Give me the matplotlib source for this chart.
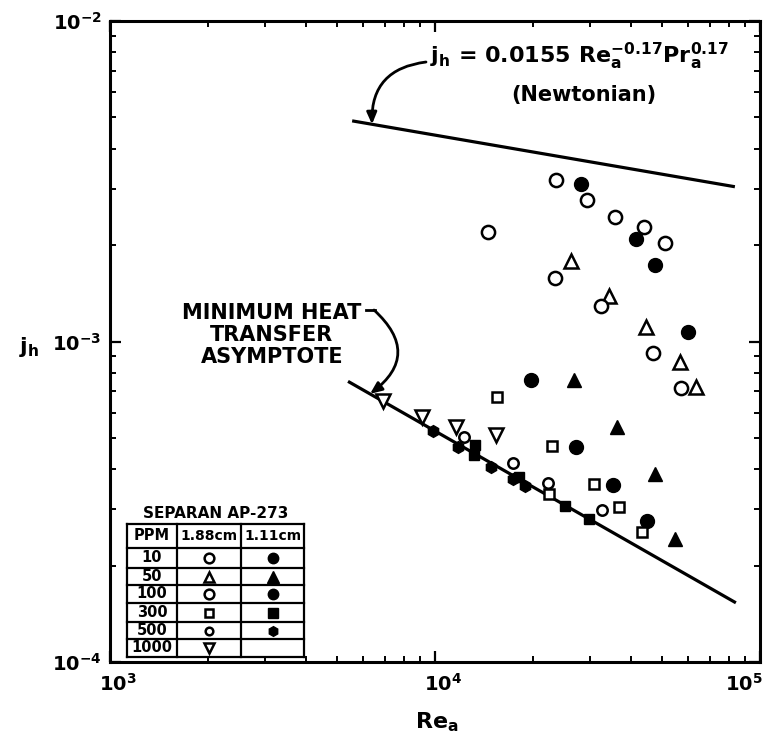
import numpy as np
import matplotlib
matplotlib.use("Agg")
import matplotlib.pyplot as plt
from matplotlib.lines import Line2D
from matplotlib.ticker import LogLocator, NullFormatter, FixedLocator
from matplotlib.transforms import blended_transform_factory, offset_copy

plt.rcParams['font.family'] = ['DejaVu Sans']
plt.rcParams['font.weight'] = 'bold'
plt.rcParams['mathtext.default'] = 'regular'

# ---------------- data ----------------
# 10 PPM
re_10_188 = [23600, 29400, 35800, 44000, 51000]
jh_10_188 = [3.18e-3, 2.77e-3, 2.45e-3, 2.28e-3, 2.03e-3]
re_10_111 = [28100, 41500, 47500, 60000]
jh_10_111 = [3.11e-3, 2.09e-3, 1.73e-3, 1.07e-3]
# 50 PPM
re_50_188 = [26200, 34300, 44600, 56700, 63600]
jh_50_188 = [1.78e-3, 1.39e-3, 1.11e-3, 8.66e-4, 7.19e-4]
re_50_111 = [26800, 36300, 47500, 54800]
jh_50_111 = [7.61e-4, 5.40e-4, 3.85e-4, 2.42e-4]
# 100 PPM
re_100_188 = [14600, 23400, 32400, 46900, 57100]
jh_100_188 = [2.20e-3, 1.58e-3, 1.29e-3, 9.24e-4, 7.14e-4]
re_100_111 = [19700, 27200, 35300, 44900]
jh_100_111 = [7.56e-4, 4.68e-4, 3.56e-4, 2.75e-4]
# 300 PPM
re_300_188 = [15500, 22900, 30800, 22400, 36800, 43400]
jh_300_188 = [6.69e-4, 4.71e-4, 3.58e-4, 3.34e-4, 3.04e-4, 2.54e-4]
re_300_111 = [13300, 13200, 18100, 25100, 29800]
jh_300_111 = [4.74e-4, 4.42e-4, 3.77e-4, 3.06e-4, 2.79e-4]
# 500 PPM
re_500_188 = [12300, 17400, 22300, 32600]
jh_500_188 = [5.02e-4, 4.17e-4, 3.61e-4, 2.98e-4]
re_500_111 = [9860, 11800, 14900, 17400, 18900]
jh_500_111 = [5.24e-4, 4.68e-4, 4.05e-4, 3.72e-4, 3.53e-4]
# 1000 PPM
re_1000_188 = [6920, 9120, 11600, 15400]
jh_1000_188 = [6.50e-4, 5.80e-4, 5.40e-4, 5.10e-4]

# Newtonian correlation line and minimum heat transfer asymptote
newt_re = [5560, 83700]
newt_jh = [4.88e-3, 3.04e-3]
asym_re = [5400, 84300]
asym_jh = [7.51e-4, 1.53e-4]

ppm_labels = ["10", "50", "100", "300", "500", "1000"]
x_ticks = [1e3, 1e4, 1e5]
x_tick_labels = [r'$10^{3}$', r'$10^{4}$', r'$10^{5}$']
y_ticks = [1e-4, 1e-3, 1e-2]
y_tick_labels = [r'$10^{-4}$', r'$10^{-3}$', r'$10^{-2}$']

# ---------------- figure ----------------
W, H = 783, 747
fig = plt.figure(figsize=(W / 100, H / 100), dpi=100)

def fx(px):
    return px / W

def fy(py):
    return 1 - py / H

ax_l, ax_r, ax_t, ax_b = 110, 760, 21, 662
ax = fig.add_axes([fx(ax_l), fy(ax_b), (ax_r - ax_l) / W, (ax_b - ax_t) / H])
ax.set_xscale('log')
ax.set_yscale('log')
ax.set_xlim(1e3, 1e5)
ax.set_ylim(1e-4, 1e-2)

for s in ax.spines.values():
    s.set_linewidth(2.2)

ax.xaxis.set_major_locator(FixedLocator(x_ticks))
ax.yaxis.set_major_locator(FixedLocator(y_ticks))
ax.xaxis.set_minor_locator(LogLocator(base=10, subs=np.arange(2, 10)))
ax.yaxis.set_minor_locator(LogLocator(base=10, subs=np.arange(2, 10)))
ax.xaxis.set_minor_formatter(NullFormatter())
ax.yaxis.set_minor_formatter(NullFormatter())
ax.set_xticklabels(['' for _ in x_ticks])
ax.set_yticklabels(y_tick_labels)
ax.tick_params(which='both', direction='in', top=True, right=True, labelsize=14)
ax.tick_params(which='major', length=8, width=1.6, pad=6)
ax.tick_params(which='minor', length=4.5, width=1.4)

# x tick labels placed below the axis (last one pulled inside the figure)
blend = blended_transform_factory(ax.transData, ax.transAxes)
x_label_shift = [8, 8, -16]
for xv, lab, dx in zip(x_ticks, x_tick_labels, x_label_shift):
    tr = offset_copy(blend, fig=fig, x=dx, y=-22, units='dots')
    ax.text(xv, 0, lab, transform=tr, fontsize=14, ha='center', va='center',
            clip_on=False)

# lines
ax.plot(newt_re, newt_jh, color='black', lw=2.3, solid_capstyle='butt')
ax.plot(asym_re, asym_jh, color='black', lw=2.3, solid_capstyle='butt')

open_kw = dict(mfc='white', mec='black', mew=1.8, ls='none')
fill_kw = dict(mfc='black', mec='black', mew=1.0, ls='none')

series = [
    (re_10_188, jh_10_188, 'o', 9.5, open_kw),
    (re_10_111, jh_10_111, 'o', 10, fill_kw),
    (re_50_188, jh_50_188, '^', 10, open_kw),
    (re_50_111, jh_50_111, '^', 10, fill_kw),
    (re_100_188, jh_100_188, 'o', 9.5, open_kw),
    (re_100_111, jh_100_111, 'o', 10, fill_kw),
    (re_300_188, jh_300_188, 's', 6.5, open_kw),
    (re_300_111, jh_300_111, 's', 7.5, fill_kw),
    (re_500_188, jh_500_188, 'o', 7.5, open_kw),
    (re_500_111, jh_500_111, 'h', 8.5, fill_kw),
    (re_1000_188, jh_1000_188, 'v', 10, open_kw),
]
for xs, ys, m, ms, kw in series:
    ax.plot(xs, ys, marker=m, ms=ms, **kw, zorder=3)

# axis labels
fig.text(fx(29), fy(347), r'$j_h$', fontsize=16, ha='center', va='center')
fig.text(fx(437), fy(722), r'$Re_a$', fontsize=16, ha='center', va='center')

# Newtonian annotation
fig.text(fx(430), fy(56), r'$j_h$ = 0.0155 $Re_a^{-0.17}$$Pr_a^{0.17}$',
         fontsize=16, ha='left', va='center')
fig.text(fx(584), fy(95), '(Newtonian)', fontsize=15, ha='center', va='center')
lx = np.log10(newt_re)
ly = np.log10(newt_jh)
tx = 6400
ty = 10 ** np.interp(np.log10(tx), lx, ly)
ax.annotate('', xy=(tx, ty), xycoords='data',
            xytext=(426, H - 62), textcoords='figure pixels',
            arrowprops=dict(arrowstyle='-|>,head_length=0.7,head_width=0.3',
                            connectionstyle='arc3,rad=0.45', lw=2.0, color='black',
                            shrinkA=0, shrinkB=0))

# Asymptote annotation
fig.text(fx(272), fy(335), 'MINIMUM HEAT\nTRANSFER\nASYMPTOTE', fontsize=15,
         ha='center', va='center', linespacing=1.1)
ax.add_artist(Line2D([fx(366), fx(375)], [fy(310), fy(310)], transform=fig.transFigure,
                     color='black', lw=2.0))
lx2 = np.log10(asym_re)
ly2 = np.log10(asym_jh)
tx2 = 6310
ty2 = 10 ** np.interp(np.log10(tx2), lx2, ly2)
ax.annotate('', xy=(tx2, ty2), xycoords='data',
            xytext=(374, H - 310), textcoords='figure pixels',
            arrowprops=dict(arrowstyle='-|>,head_length=0.7,head_width=0.3',
                            connectionstyle='arc3,rad=-0.6', lw=2.0, color='black',
                            shrinkA=0, shrinkB=0))

# ---------------- legend table ----------------
tl, tr_ = 127, 304
c1, c2 = 177, 241
rows_y = [524, 548, 568, 585, 603, 622, 639, 657]
fig.text(fx((tl + tr_) / 2), fy(514), 'SEPARAN AP-273', fontsize=11,
         ha='center', va='center')
lw_t = 1.6
for y in rows_y:
    fig.add_artist(Line2D([fx(tl), fx(tr_)], [fy(y), fy(y)], transform=fig.transFigure,
                          color='black', lw=lw_t))
for x in [tl, c1, c2, tr_]:
    fig.add_artist(Line2D([fx(x), fx(x)], [fy(rows_y[0]), fy(rows_y[-1])],
                          transform=fig.transFigure, color='black', lw=lw_t))
hy = (rows_y[0] + rows_y[1]) / 2
fig.text(fx((tl + c1) / 2), fy(hy), 'PPM', fontsize=10.5, ha='center', va='center')
fig.text(fx((c1 + c2) / 2), fy(hy), '1.88cm', fontsize=10, ha='center', va='center')
fig.text(fx((c2 + tr_) / 2), fy(hy), '1.11cm', fontsize=10, ha='center', va='center')

legend_markers = [
    (('o', 7, open_kw), ('o', 7.5, fill_kw)),
    (('^', 7.5, open_kw), ('^', 8, fill_kw)),
    (('o', 7, open_kw), ('o', 7.5, fill_kw)),
    (('s', 5.5, open_kw), ('s', 6.5, fill_kw)),
    (('o', 5.5, open_kw), ('h', 7, fill_kw)),
    (('v', 7.5, open_kw), None),
]
for i, lab in enumerate(ppm_labels):
    ry = (rows_y[i + 1] + rows_y[i + 2]) / 2
    fig.text(fx((tl + c1) / 2), fy(ry), lab, fontsize=10.5, ha='center', va='center')
    for col, spec in zip([(c1 + c2) / 2, (c2 + tr_) / 2], legend_markers[i]):
        if spec is None:
            continue
        m, ms, kw = spec
        fig.add_artist(Line2D([fx(col)], [fy(ry)], marker=m, ms=ms,
                              transform=fig.transFigure, **kw))

fig.savefig('out.png', dpi=100)
